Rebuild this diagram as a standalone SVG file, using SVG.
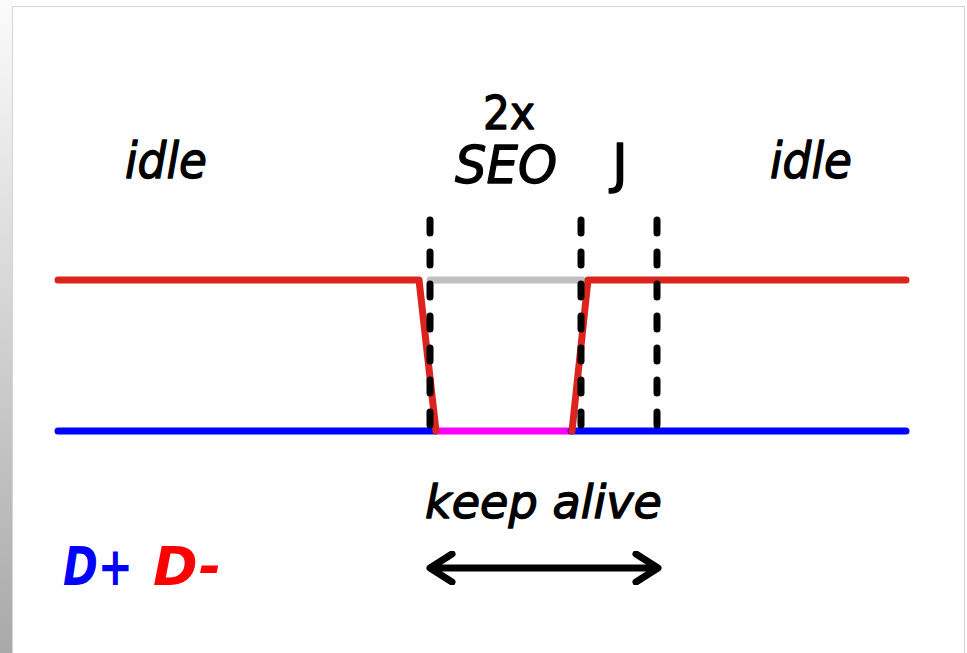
<svg xmlns="http://www.w3.org/2000/svg" width="967" height="653" viewBox="0 0 967 653">
  <defs>
    <linearGradient id="strip" x1="0" y1="0" x2="0" y2="1">
      <stop offset="0" stop-color="#fbfbfb"/>
      <stop offset="1" stop-color="#a9a9a9"/>
    </linearGradient>
    <marker id="chev" viewBox="0 0 30 34" refX="26" refY="17" markerWidth="30" markerHeight="34" markerUnits="userSpaceOnUse" orient="auto-start-reverse">
      <path d="M4 3 L26 17 L4 31" fill="none" stroke="#000" stroke-width="7" stroke-linecap="round" stroke-linejoin="round"/>
    </marker>
  </defs>
  <style>
    .sig { fill: none; stroke-width: 7; stroke-linecap: round; stroke-linejoin: round; }
    .dash { fill: none; stroke: #000; stroke-width: 7; stroke-linecap: round; stroke-dasharray: 13 19; }
    .lbl { font-family: "DejaVu Sans", "Liberation Sans", sans-serif; fill: #000; stroke: #000; stroke-width: 1.3; stroke-linejoin: round; }
  </style>
  <rect x="0" y="0" width="967" height="653" fill="#ffffff"/>
  <rect x="0" y="0" width="12" height="653" fill="url(#strip)"/>
  <rect x="12.5" y="6.5" width="952" height="652" fill="#ffffff" stroke="#d4d4d4" stroke-width="1"/>

  <g id="connectors">
    <line id="seo-dm" x1="430" y1="280" x2="582" y2="280" class="sig" stroke="#c0c0c0"/>
    <line id="seo-dp" x1="437" y1="431" x2="571" y2="431" class="sig" stroke="#ff00ff"/>
    <polyline id="dplus-left" points="58,431 435,431" class="sig" stroke="#0000ff"/>
    <polyline id="dplus-right" points="571,431 906,431" class="sig" stroke="#0000ff"/>
    <polyline id="dminus-left" points="58,280 419,280 436,431" class="sig" stroke="#dc241f"/>
    <polyline id="dminus-right" points="572,431 588,280 906,280" class="sig" stroke="#dc241f"/>
    <line id="div1" x1="430" y1="220" x2="430" y2="430" class="dash"/>
    <line id="div2" x1="581" y1="220" x2="581" y2="430" class="dash"/>
    <line id="div3" x1="657" y1="220" x2="657" y2="430" class="dash"/>
    <line id="keepalive-arrow" x1="430" y1="568" x2="658" y2="568" stroke="#000" stroke-width="7" marker-start="url(#chev)" marker-end="url(#chev)"/>
  </g>

  <g id="label-idle-left"><text x="125" y="178" class="lbl" font-size="50" font-style="italic" textLength="82" lengthAdjust="spacingAndGlyphs">idle</text></g>
  <g id="label-2x"><text x="483" y="129" class="lbl" font-size="46" textLength="52" lengthAdjust="spacingAndGlyphs">2x</text></g>
  <g id="label-seo"><text x="455" y="183" class="lbl" font-size="52" font-style="italic" textLength="102" lengthAdjust="spacingAndGlyphs">SEO</text></g>
  <g id="label-j"><text x="612" y="182" class="lbl" font-size="54">J</text></g>
  <g id="label-idle-right"><text x="770" y="178" class="lbl" font-size="50" font-style="italic" textLength="82" lengthAdjust="spacingAndGlyphs">idle</text></g>
  <g id="label-keepalive"><text x="425" y="518" class="lbl" font-size="46" font-style="italic" textLength="237" lengthAdjust="spacingAndGlyphs">keep alive</text></g>
  <g id="legend">
    <text x="63" y="585" font-family="DejaVu Sans, Liberation Sans, sans-serif" font-size="54" font-style="italic" font-weight="bold" fill="#0000ff" textLength="70" lengthAdjust="spacingAndGlyphs">D+</text>
    <text x="153" y="585" font-family="DejaVu Sans, Liberation Sans, sans-serif" font-size="54" font-style="italic" font-weight="bold" fill="#ff0000" textLength="68" lengthAdjust="spacingAndGlyphs">D-</text>
  </g>
</svg>
